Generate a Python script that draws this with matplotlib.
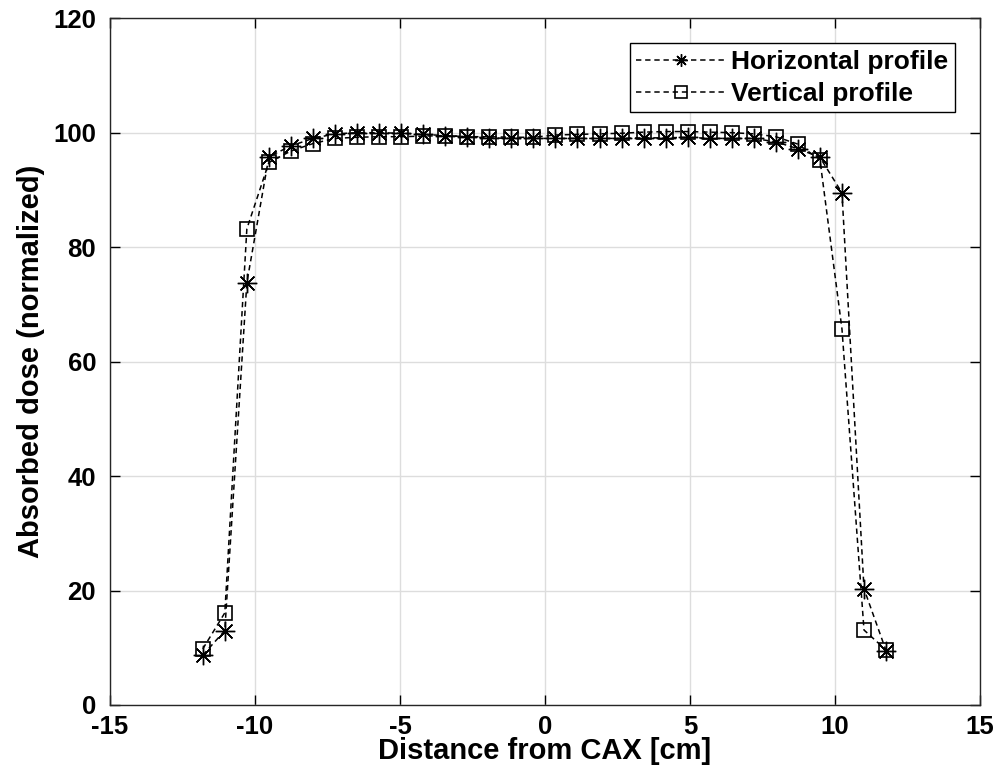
import numpy as np
import matplotlib
matplotlib.use('Agg')
import matplotlib.pyplot as plt

plt.rcParams['font.family'] = ['Liberation Sans', 'DejaVu Sans']
plt.rcParams['font.weight'] = 'bold'
plt.rcParams['axes.unicode_minus'] = False

# distance from CAX [cm]
pos = [-11.8, -11.04, -10.28, -9.52, -8.76, -8.0, -7.24, -6.48, -5.72, -4.96,
       -4.2, -3.44, -2.68, -1.92, -1.16, -0.4, 0.36, 1.12, 1.88, 2.64,
       3.4, 4.16, 4.92, 5.68, 6.44, 7.2, 7.96, 8.72, 9.48, 10.24, 11.0, 11.76]

# horizontal profile
horiz = [8.7, 13.0, 73.8, 95.8, 97.7, 99.0, 99.8, 100.0, 100.0, 99.9,
         99.7, 99.5, 99.3, 99.1, 99.0, 99.0, 99.0, 99.0, 99.0, 99.0,
         99.1, 99.1, 99.2, 99.0, 99.0, 99.0, 98.4, 97.2, 95.7, 89.5, 20.3, 9.5]

# vertical profile
vert = [9.8, 16.1, 83.2, 94.8, 96.8, 98.1, 99.0, 99.2, 99.3, 99.3,
        99.4, 99.5, 99.3, 99.3, 99.2, 99.2, 99.6, 99.7, 99.8, 99.9,
        100.1, 100.2, 100.2, 100.1, 100.0, 99.8, 99.3, 98.0, 95.3, 65.7, 13.1, 9.6]

fig = plt.figure(figsize=(10.07, 7.76), dpi=100)
ax = fig.add_axes([0.1092, 0.0915, 0.864, 0.885])

ax.plot(pos, horiz, color='k', linestyle=(0, (3.5, 2.5)), linewidth=1.1,
        marker=(8, 2, 0), markersize=14, markeredgewidth=1.0,
        label='Horizontal profile')
ax.plot(pos, vert, color='k', linestyle=(0, (3.5, 2.5)), linewidth=1.1,
        marker='s', markersize=10.5, markerfacecolor='none', markeredgewidth=1.2,
        label='Vertical profile')

ax.set_xlim(-15, 15)
ax.set_ylim(0, 120)
ax.set_xticks(np.arange(-15, 16, 5))
ax.set_yticks(np.arange(0, 121, 20))
ax.grid(True, color='#dddddd', linewidth=1.0)
ax.set_axisbelow(True)
ax.tick_params(direction='in', length=7, width=1.0, labelsize=18.5, top=True, right=True)
ax.tick_params(axis='x', pad=7)
ax.tick_params(axis='y', pad=10)
for s in ax.spines.values():
    s.set_linewidth(1.0)
    s.set_color('#262626')

ax.set_xlabel('Distance from CAX [cm]', fontsize=21, fontweight='bold', labelpad=-1)
ax.set_ylabel('Absorbed dose (normalized)', fontsize=21, fontweight='bold', labelpad=6)

leg = ax.legend(loc='upper right', fontsize=19, frameon=True, fancybox=False,
                edgecolor='k', framealpha=1, handlelength=3.4, handletextpad=0.2,
                borderpad=0.25, labelspacing=0.3, borderaxespad=0.95, numpoints=1)
leg.get_frame().set_linewidth(1.0)
for h in leg.legend_handles:
    h.set_markersize(9)

fig.savefig('out.png', dpi=100)
